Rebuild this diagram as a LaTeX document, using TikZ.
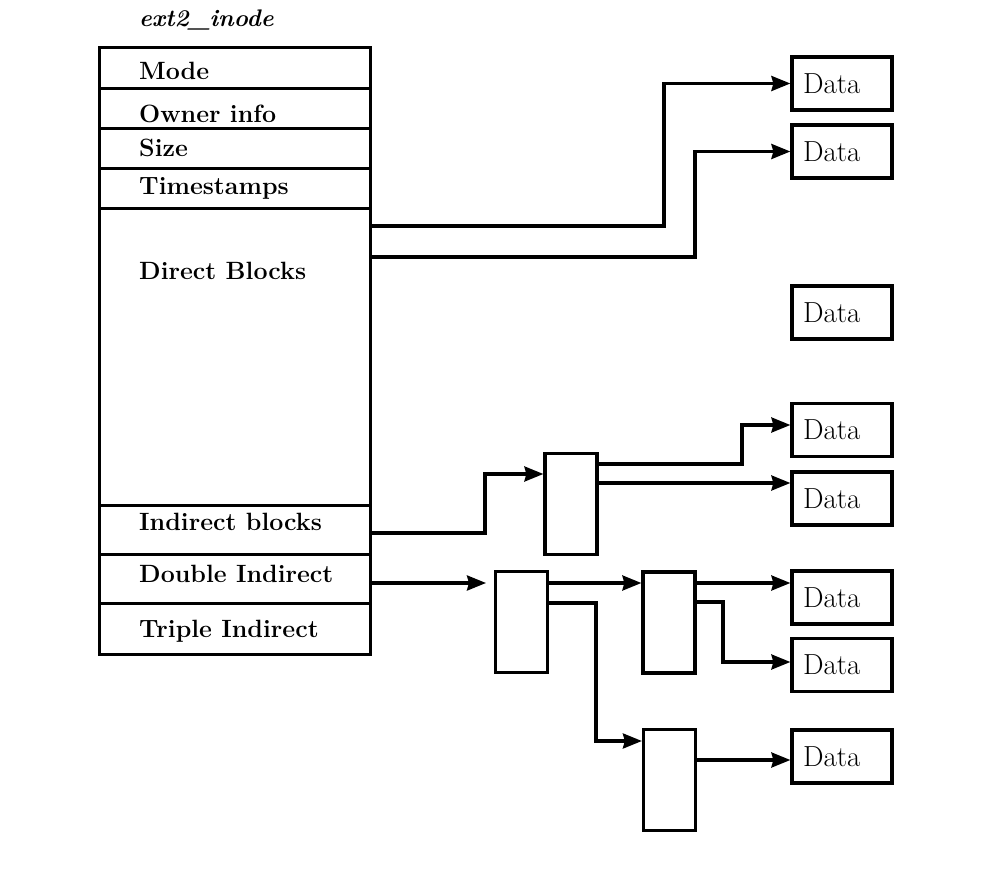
\documentclass[tikz,border=0pt]{standalone}
\usetikzlibrary{arrows.meta,calc}
\begin{document}
\begin{tikzpicture}[x=1pt,y=-1pt,
  fieldbox/.style={draw,line width=3.2pt,rectangle,minimum width=271pt,inner sep=0pt,anchor=north west},
  fieldlabel/.style={anchor=base west,inner sep=0pt,font=\fontsize{25}{30}\selectfont\bfseries},
  titlelabel/.style={anchor=base west,inner sep=0pt,font=\fontsize{24}{30}\selectfont\bfseries\itshape},
  databox/.style={draw,line width=3.2pt,rectangle,minimum width=100pt,minimum height=53pt,inner xsep=11pt,inner ysep=0pt,text width=78pt,align=left,font=\fontsize{29}{34}\selectfont},
  ptrbox/.style={draw,line width=3.2pt,rectangle,minimum width=52pt,minimum height=101pt,inner sep=0pt},
  arr/.style={line width=3.2pt,-{Stealth[length=19pt,width=15pt,inset=2pt]}}
]
\useasboundingbox (0,0) rectangle (997,888);

% inode fields
\node[fieldbox,minimum height=41pt] (mode) at (98,46) {};
\node[fieldbox,minimum height=40pt] (owner) at (98,87) {};
\node[fieldbox,minimum height=40pt] (size) at (98,127) {};
\node[fieldbox,minimum height=40pt] (times) at (98,167) {};
\node[fieldbox,minimum height=297pt] (direct) at (98,207) {};
\node[fieldbox,minimum height=49pt] (indirect) at (98,504) {};
\node[fieldbox,minimum height=49pt] (double) at (98,553) {};
\node[fieldbox,minimum height=51pt] (triple) at (98,602) {};

\node[titlelabel] (title) at (139,27) {ext2\_inode};
\node[fieldlabel] (lmode) at (139,80) {Mode};
\node[fieldlabel] (lowner) at (139,123) {Owner info};
\node[fieldlabel] (lsize) at (139,157) {Size};
\node[fieldlabel] (ltimes) at (139,195) {Timestamps};
\node[fieldlabel] (ldirect) at (139,279) {Direct Blocks};
\node[fieldlabel] (lindirect) at (139,530) {Indirect blocks};
\node[fieldlabel] (ldouble) at (139,582) {Double Indirect};
\node[fieldlabel] (ltriple) at (139,637) {Triple Indirect};

% data blocks
\node[databox] (data1) at (842,83.5) {Data};
\node[databox] (data2) at (842,151.5) {Data};
\node[databox] (data3) at (842,312.5) {Data};
\node[databox] (data4) at (842,430) {Data};
\node[databox] (data5) at (842,498.5) {Data};
\node[databox] (data6) at (842,597.5) {Data};
\node[databox] (data7) at (842,665) {Data};
\node[databox] (data8) at (842,756.5) {Data};

% pointer blocks
\node[ptrbox] (ib) at (571,504) {};
\node[ptrbox] (da) at (521.5,622) {};
\node[ptrbox] (db) at (669,622.5) {};
\node[ptrbox] (dc) at (669.5,780) {};

\coordinate (dtip) at (486,583);

% direct
\draw[arr] (direct.east |- 0,226) -- (664,226) |- (data1.west);
\draw[arr] (direct.east |- 0,257) -- (695,257) |- (data2.west);

% indirect
\draw[arr] (indirect.east |- 0,533) -- (485,533) |- (ib.west |- 0,474);
\draw[arr] (ib.east |- 0,464) -- (742,464) |- (data4.west |- 0,425);
\draw[arr] (ib.east |- 0,483) -- (data5.west |- 0,483);

% double indirect
\draw[arr] (double.east |- dtip) -- (dtip);
\draw[arr] (da.east |- 0,583) -- (db.west |- 0,583);
\draw[arr] (da.east |- 0,603) -- (596,603) |- (dc.west |- 0,741);
\draw[arr] (db.east |- 0,583) -- (data6.west |- 0,583);
\draw[arr] (db.east |- 0,602) -- (723,602) |- (data7.west |- 0,662);
\draw[arr] (dc.east |- 0,760) -- (data8.west |- 0,760);
\end{tikzpicture}
\end{document}
